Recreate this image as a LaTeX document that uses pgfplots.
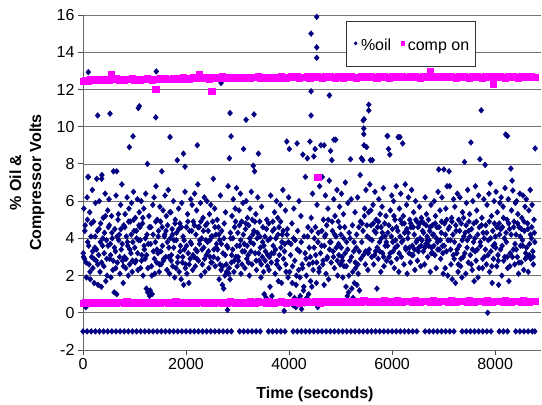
\documentclass[border=0pt]{standalone}
\usepackage{fontspec}
\setmainfont{Liberation Sans}
\usepackage{pgfplots}
\pgfplotsset{compat=1.18}
\definecolor{navy}{RGB}{0,0,128}
\definecolor{mag}{RGB}{255,0,255}
\begin{document}
\begin{tikzpicture}
\begin{axis}[
  scale only axis, width=458pt, height=335pt,
  xmin=0, xmax=8890, ymin=-2, ymax=16,
  xtick={0,2000,4000,6000,8000}, xticklabels={0,2000,4000,6000,8000},
  ytick={-2,0,2,4,6,8,10,12,14,16}, yticklabels={-2,0,2,4,6,8,10,12,14,16},
  axis x line*=bottom, axis y line*=left,
  tick align=outside, major tick length=5pt, tick pos=left,
  ymajorgrids, grid style={black!55, line width=0.7pt},
  axis line style={black!60, line width=0.9pt},
  tick style={black!70, line width=0.8pt},
  ticklabel style={font=\fontsize{16}{19}\selectfont},
  xlabel={Time (seconds)}, ylabel={\% Oil \&\\Compressor Volts},
  xlabel style={font=\bfseries\fontsize{16}{19}\selectfont, at={(axis description cs:0.5066,0)}, anchor=base, yshift=-48pt},
  ylabel style={font=\bfseries\fontsize{16}{20}\selectfont, align=center, at={(axis description cs:-0.1223,0.5)}, anchor=center},
  legend style={at={(axis description cs:0.5745,0.9835)}, anchor=north west, legend columns=2, draw=black!80, line width=0.6pt, fill=white, font=\fontsize{16}{19}\selectfont, nodes={inner xsep=3pt, inner ysep=2pt, text height=26pt, text depth=11pt}, /tikz/every even column/.append style={column sep=2pt}},
  legend cell align=left,
  legend image code/.code={\path (0pt,8pt) (8pt,-1.6pt); \draw[#1,mark size=1.6pt] plot coordinates {(6pt,0pt)};},
]
\addplot[only marks, color=navy, mark=diamond*, mark size=2.9pt, mark options={xscale=1.15, fill=navy, draw=none}] coordinates {
(5,3.2)(17,5.6)(30,2.9)(42,4.7)(55,0.3)(67,1.9)(80,6.2)(92,3.8)
(105,7.3)(117,2.6)(130,5.4)(142,1.8)(155,4.1)(167,3.0)(180,6.6)(192,2.4)
(205,4.9)(217,1.6)(230,3.5)(242,5.9)(255,2.8)(267,7.2)(280,4.4)(292,1.5)
(305,3.1)(317,6.0)(330,2.2)(342,4.8)(355,1.4)(367,7.4)(380,3.6)(392,5.1)
(405,2.5)(417,4.3)(430,6.4)(442,1.7)(455,3.9)(467,2.0)(480,5.5)(492,4.6)
(505,6.1)(517,2.9)(530,3.7)(542,1.9)(555,5.2)(567,4.0)(580,2.3)(592,7.6)
(605,1.1)(617,4.5)(630,3.3)(642,6.3)(655,1.0)(667,2.7)(680,5.0)(692,3.9)
(705,4.2)(717,2.1)(730,5.8)(742,3.4)(755,6.9)(767,2.8)(780,1.6)(792,4.7)
(805,3.0)(817,5.3)(830,2.4)(842,4.1)(855,6.2)(867,3.6)(880,2.0)(892,5.6)
(905,2.6)(917,4.9)(930,3.2)(942,5.9)(955,2.2)(967,3.8)(980,6.5)(992,4.4)
(1005,3.5)(1017,5.1)(1030,2.8)(1042,4.0)(1055,6.1)(1067,2.3)(1080,3.9)(1092,5.4)
(1105,4.6)(1117,2.4)(1130,6.0)(1142,3.1)(1155,4.8)(1167,2.0)(1180,5.6)(1192,3.4)
(1205,2.9)(1217,6.4)(1230,1.3)(1242,4.2)(1255,1.1)(1267,3.7)(1280,5.2)(1292,0.9)
(1305,1.2)(1317,4.6)(1330,2.5)(1342,1.0)(1355,5.8)(1367,3.3)(1380,6.2)(1392,2.1)
(1405,3.8)(1417,6.8)(1430,2.7)(1442,5.0)(1455,3.2)(1467,4.4)(1480,2.2)(1492,5.7)
(1505,4.9)(1517,2.6)(1530,7.6)(1542,3.6)(1555,5.5)(1567,2.9)(1580,4.1)(1592,6.3)
(1605,3.0)(1617,5.2)(1630,2.3)(1642,4.7)(1655,6.6)(1667,3.5)(1680,2.1)(1692,4.0)
(1705,5.4)(1717,3.1)(1730,4.5)(1742,2.5)(1755,6.0)(1767,3.9)(1780,1.9)(1792,5.0)
(1805,2.4)(1817,4.3)(1830,8.2)(1842,3.0)(1855,5.6)(1867,2.2)(1880,4.8)(1892,3.6)
(1905,1.8)(1917,5.9)(1930,2.7)(1942,4.1)(1955,1.5)(1967,3.4)(1980,6.5)(1992,2.6)
(2005,4.6)(2017,2.1)(2030,5.3)(2042,3.2)(2055,1.6)(2067,4.4)(2080,2.9)(2092,6.1)
(2105,3.7)(2117,5.8)(2130,2.3)(2142,4.9)(2155,3.0)(2167,6.4)(2180,2.5)(2192,4.2)
(2205,5.5)(2217,3.3)(2230,6.9)(2242,2.8)(2255,4.6)(2267,3.9)(2280,5.9)(2292,2.0)
(2305,4.0)(2317,2.6)(2330,5.1)(2342,3.5)(2355,6.2)(2367,2.2)(2380,4.7)(2392,3.1)
(2405,6.0)(2417,3.8)(2430,4.4)(2442,2.4)(2455,5.3)(2467,3.0)(2480,5.8)(2492,4.1)
(2505,2.7)(2517,4.9)(2530,7.2)(2542,3.4)(2555,5.6)(2567,2.5)(2580,4.2)(2592,3.7)
(2605,5.0)(2617,2.9)(2630,4.6)(2642,1.8)(2655,3.9)(2667,6.3)(2680,2.3)(2692,4.4)
(2705,1.5)(2717,3.2)(2730,1.3)(2742,4.8)(2755,2.0)(2767,5.4)(2780,2.6)(2792,3.6)
(2805,0.15)(2817,6.8)(2830,2.1)(2842,8.3)(2855,1.8)(2867,4.0)(2880,2.7)(2892,5.2)
(2905,3.4)(2917,6.1)(2930,2.2)(2942,4.6)(2955,5.6)(2967,3.0)(2980,6.7)(2992,2.5)
(3005,4.3)(3017,2.8)(3030,5.5)(3042,3.6)(3055,6.4)(3067,2.1)(3080,4.9)(3092,3.3)
(3105,5.9)(3117,8.8)(3130,3.7)(3142,2.4)(3155,4.5)(3167,6.0)(3180,2.9)(3192,5.1)
(3205,3.1)(3217,4.7)(3230,2.0)(3242,5.6)(3255,3.8)(3267,6.5)(3280,2.6)(3292,4.2)
(3305,7.9)(3317,4.4)(3330,7.6)(3342,3.2)(3355,5.3)(3367,2.3)(3380,4.0)(3392,6.2)
(3405,8.55)(3417,2.8)(3430,4.9)(3442,3.5)(3455,1.9)(3467,5.7)(3480,3.0)(3492,4.6)
(3505,2.2)(3517,1.0)(3530,4.1)(3542,3.3)(3555,0.8)(3567,5.0)(3580,2.5)(3592,3.9)
(3605,4.8)(3617,3.0)(3630,1.4)(3642,6.3)(3655,2.7)(3667,0.9)(3680,4.4)(3692,3.6)
(3705,3.2)(3717,5.4)(3730,2.1)(3742,4.0)(3755,6.0)(3767,2.8)(3780,5.1)(3792,1.7)
(3805,4.6)(3817,2.4)(3830,5.8)(3842,3.5)(3855,1.6)(3867,4.2)(3880,6.6)(3892,2.9)
(3905,0.1)(3917,3.7)(3930,5.5)(3942,2.2)(3955,9.2)(3967,4.5)(3980,1.9)(3992,6.2)
(4005,8.8)(4017,1.0)(4030,3.1)(4042,0.6)(4055,4.8)(4067,2.5)(4080,0.4)(4092,5.6)
(4105,0.8)(4117,3.9)(4130,0.3)(4142,2.0)(4155,9.1)(4167,4.4)(4180,0.7)(4192,6.0)
(4205,3.3)(4217,0.9)(4230,5.2)(4242,0.2)(4255,2.6)(4267,8.5)(4280,1.2)(4292,4.1)
(4305,0.5)(4317,7.3)(4330,2.9)(4342,0.8)(4355,8.3)(4367,4.6)(4380,1.0)(4392,3.5)
(4405,9.2)(4417,1.7)(4430,5.1)(4442,1.4)(4455,6.4)(4467,2.3)(4480,8.4)(4492,4.0)
(4505,8.8)(4517,3.1)(4530,1.6)(4542,5.8)(4555,0.3)(4567,4.3)(4580,2.2)(4592,6.8)
(4605,0.5)(4617,9.0)(4630,3.6)(4642,7.3)(4655,2.6)(4667,5.0)(4680,1.5)(4692,4.1)
(4705,6.3)(4717,2.1)(4730,4.7)(4742,3.0)(4755,5.6)(4767,1.8)(4780,7.1)(4792,3.8)
(4805,8.7)(4817,2.7)(4830,8.2)(4842,4.4)(4855,3.3)(4867,6.1)(4880,2.4)(4892,5.2)
(4905,9.3)(4917,3.5)(4930,6.6)(4942,2.0)(4955,4.9)(4967,3.1)(4980,5.7)(4992,2.6)
(5005,4.2)(5017,6.4)(5030,3.0)(5042,1.9)(5055,5.3)(5067,2.5)(5080,4.6)(5092,7.0)
(5105,1.4)(5117,3.8)(5130,0.9)(5142,5.9)(5155,1.1)(5167,4.3)(5180,2.8)(5192,8.25)
(5205,6.1)(5217,1.3)(5230,4.7)(5242,0.8)(5255,3.3)(5267,1.6)(5280,5.4)(5292,2.4)
(5305,3.5)(5317,1.5)(5330,6.2)(5342,2.1)(5355,4.6)(5367,1.2)(5380,7.4)(5392,2.9)
(5405,8.3)(5417,4.8)(5430,8.2)(5442,3.1)(5455,9.0)(5467,5.6)(5480,2.6)(5492,6.6)
(5505,8.9)(5517,4.1)(5530,2.3)(5542,5.4)(5555,3.4)(5567,6.9)(5580,8.2)(5592,4.7)
(5605,3.0)(5617,8.2)(5630,5.8)(5642,2.6)(5655,4.4)(5667,6.5)(5680,3.3)(5692,5.0)
(5705,1.3)(5717,4.6)(5730,2.9)(5742,6.1)(5755,3.8)(5767,5.3)(5780,2.2)(5792,4.0)
(5805,5.7)(5817,3.2)(5830,6.7)(5842,2.5)(5855,4.8)(5867,3.6)(5880,5.2)(5892,2.8)
(5905,9.5)(5917,4.3)(5930,8.8)(5942,3.0)(5955,8.5)(5967,5.5)(5980,2.7)(5992,6.3)
(6005,4.5)(6017,3.3)(6030,6.0)(6042,2.4)(6055,5.0)(6067,3.9)(6080,6.8)(6092,2.9)
(6105,3.6)(6117,9.44)(6130,2.2)(6142,5.6)(6155,4.1)(6167,6.4)(6180,3.0)(6192,4.8)
(6205,9.1)(6217,5.2)(6230,2.6)(6242,4.3)(6255,6.9)(6267,3.4)(6280,5.8)(6292,2.1)
(6305,4.0)(6317,6.2)(6330,3.2)(6342,5.0)(6355,2.7)(6367,4.6)(6380,6.6)(6392,3.6)
(6405,3.1)(6417,5.4)(6430,4.2)(6442,2.3)(6455,6.0)(6467,3.8)(6480,4.9)(6492,2.8)
(6505,4.6)(6517,3.5)(6530,5.7)(6542,4.0)(6555,2.5)(6567,5.1)(6580,3.9)(6592,4.4)
(6605,3.3)(6617,4.8)(6630,2.6)(6642,6.2)(6655,3.7)(6667,5.3)(6680,4.1)(6692,3.0)
(6705,5.0)(6717,3.9)(6730,4.4)(6742,2.2)(6755,5.8)(6767,3.5)(6780,4.7)(6792,3.2)
(6805,4.2)(6817,6.0)(6830,3.1)(6842,5.2)(6855,2.4)(6867,4.6)(6880,3.8)(6892,6.5)
(6905,7.7)(6917,3.4)(6930,5.5)(6942,2.9)(6955,4.3)(6967,6.2)(6980,3.6)(6992,2.1)
(7005,7.7)(7017,4.8)(7030,2.4)(7042,5.6)(7055,3.3)(7067,6.8)(7080,2.0)(7092,4.5)
(7105,7.6)(7117,6.8)(7130,3.9)(7142,2.6)(7155,5.1)(7167,1.8)(7180,4.2)(7192,6.1)
(7205,2.9)(7217,5.7)(7230,1.6)(7242,4.4)(7255,3.2)(7267,6.4)(7280,2.2)(7292,5.0)
(7305,3.6)(7317,6.2)(7330,2.5)(7342,4.8)(7355,1.9)(7367,5.4)(7380,3.0)(7392,4.1)
(7405,8.1)(7417,4.3)(7430,2.1)(7442,5.9)(7455,3.5)(7467,6.6)(7480,2.7)(7492,4.9)
(7505,5.3)(7517,3.1)(7530,9.15)(7542,4.5)(7555,2.3)(7567,6.0)(7580,3.8)(7592,1.7)
(7605,4.0)(7617,6.8)(7630,2.8)(7642,5.5)(7655,3.4)(7667,1.9)(7680,6.3)(7692,4.6)
(7705,8.25)(7717,3.6)(7730,10.88)(7742,5.1)(7755,2.4)(7767,4.3)(7780,6.1)(7792,3.0)
(7805,7.95)(7817,4.7)(7830,2.6)(7842,5.8)(7855,0.0)(7867,3.9)(7880,6.4)(7892,2.2)
(7905,6.95)(7917,3.3)(7930,5.2)(7942,1.6)(7955,4.4)(7967,2.9)(7980,6.0)(7992,3.7)
(8005,4.1)(8017,6.5)(8030,2.5)(8042,5.4)(8055,3.1)(8067,1.5)(8080,4.8)(8092,5.9)
(8105,3.4)(8117,6.2)(8130,2.0)(8142,4.6)(8155,5.7)(8167,2.8)(8180,4.0)(8192,6.7)
(8205,9.58)(8217,3.8)(8230,5.0)(8242,2.4)(8255,6.1)(8267,1.7)(8280,4.5)(8292,3.2)
(8305,7.75)(8317,5.5)(8330,7.1)(8342,6.57)(8355,3.4)(8367,4.9)(8380,2.6)(8392,5.9)
(8405,4.2)(8417,6.0)(8430,3.0)(8442,5.3)(8455,2.1)(8467,4.6)(8480,6.4)(8492,3.6)
(8505,2.7)(8517,5.1)(8530,3.9)(8542,6.3)(8555,2.3)(8567,4.4)(8580,5.7)(8592,3.2)
(8605,6.1)(8617,3.0)(8630,4.8)(8642,2.2)(8655,5.5)(8667,3.7)(8680,6.6)(8692,2.9)
(8705,4.0)(8717,5.8)(8730,3.3)(8742,2.6)(8755,5.0)(8770,3.8)(8777,8.83)
(11,3.0)(36,4.4)(61,2.7)(86,5.0)(111,3.6)(136,2.2)(161,4.8)(186,3.3)(211,2.9)(236,4.1)(261,3.4)(286,2.6)
(311,4.5)(336,3.8)(361,2.7)(386,4.0)(411,3.2)(436,5.2)(461,2.9)(486,3.6)(511,4.7)(536,3.1)(561,4.3)(586,2.8)
(611,3.5)(636,2.4)(661,4.1)(686,5.3)(711,3.0)(736,4.5)(761,3.7)(786,2.5)(811,4.6)(836,2.9)(861,3.8)(886,4.9)
(911,3.4)(936,4.2)(961,2.8)(986,5.0)(1011,2.7)(1036,4.4)(1061,3.2)(1086,4.7)(1111,3.9)(1136,2.8)(1161,5.1)(1186,3.6)
(1211,4.0)(1236,3.1)(1261,2.4)(1286,4.6)(1311,3.7)(1336,2.0)(1361,4.2)(1386,2.9)(1411,4.9)(1436,3.4)(1461,4.1)(1486,2.6)
(1511,3.3)(1536,4.6)(1561,2.8)(1586,4.2)(1611,4.4)(1636,3.8)(1661,3.0)(1686,5.4)(1711,2.8)(1736,4.2)(1761,3.5)(1786,4.8)
(1811,3.9)(1836,2.7)(1861,4.5)(1886,3.3)(1911,4.6)(1936,3.0)(1961,3.9)(1986,2.4)(2011,3.6)(2036,4.9)(2061,2.6)(2086,3.8)
(2111,4.4)(2136,3.1)(2161,4.7)(2186,3.4)(2211,2.9)(2236,4.6)(2261,3.7)(2286,4.9)(2311,3.4)(2336,4.4)(2361,2.9)(2386,3.9)
(2411,4.8)(2436,3.3)(2461,3.9)(2486,2.7)(2511,4.1)(2536,3.0)(2561,4.6)(2586,3.5)(2611,3.4)(2636,4.2)(2661,2.6)(2686,3.7)
(2711,2.5)(2736,4.0)(2761,3.1)(2786,2.2)(2811,3.5)(2836,2.4)(2861,4.3)(2886,3.1)(2911,4.0)(2936,2.8)(2961,4.9)(2986,3.6)
(3011,3.0)(3036,4.7)(3061,3.9)(3086,2.6)(3111,4.2)(3136,3.3)(3161,4.8)(3186,3.6)(3211,2.7)(3236,4.0)(3261,3.3)(3286,5.0)
(3311,3.7)(3336,4.9)(3361,2.8)(3386,4.3)(3411,3.2)(3436,4.1)(3461,2.6)(3486,3.8)(3511,3.6)(3536,2.8)(3561,4.5)(3586,3.1)
(3611,2.3)(3636,4.0)(3661,3.2)(3686,4.9)(3711,4.5)(3736,3.4)(3761,2.6)(3786,4.2)(3811,3.1)(3836,4.9)(3861,3.8)(3886,4.4)
(3911,3.3)(3936,2.6)(3961,4.2)(3986,3.8)(4011,2.2)(4036,3.7)(4061,1.6)(4086,4.0)(4111,2.8)(4136,1.5)(4161,3.4)(4186,2.3)
(4211,1.9)(4236,3.8)(4261,2.4)(4286,1.4)(4311,3.2)(4336,2.0)(4361,4.1)(4386,2.6)(4411,3.0)(4436,4.4)(4461,2.7)(4486,3.5)
(4511,4.6)(4536,2.7)(4561,3.8)(4586,2.4)(4611,3.2)(4636,4.4)(4661,2.8)(4686,3.6)(4711,4.2)(4736,2.9)(4761,5.0)(4786,3.4)
(4811,3.8)(4836,4.9)(4861,3.0)(4886,4.2)(4911,4.1)(4936,2.8)(4961,3.7)(4986,4.6)(5011,3.5)(5036,2.8)(5061,4.0)(5086,3.2)
(5111,2.5)(5136,3.4)(5161,2.0)(5186,4.0)(5211,3.0)(5236,2.2)(5261,3.8)(5286,2.7)(5311,4.2)(5336,2.6)(5361,3.3)(5386,4.9)
(5411,3.8)(5436,4.4)(5461,5.2)(5486,3.3)(5511,4.7)(5536,3.2)(5561,4.0)(5586,5.5)(5611,3.9)(5636,4.8)(5661,3.1)(5686,4.3)
(5711,3.5)(5736,4.9)(5761,3.3)(5786,4.6)(5811,4.3)(5836,3.0)(5861,4.1)(5886,3.8)(5911,3.6)(5936,4.7)(5961,3.2)(5986,4.1)
(6011,3.8)(6036,5.2)(6061,3.5)(6086,4.6)(6111,4.4)(6136,3.2)(6161,5.0)(6186,3.8)(6211,3.9)(6236,4.8)(6261,3.5)(6286,4.5)
(6311,4.3)(6336,3.5)(6361,4.8)(6386,3.1)(6411,4.6)(6436,3.4)(6461,5.0)(6486,3.9)(6511,3.3)(6536,4.8)(6561,3.6)(6586,4.9)
(6611,4.3)(6636,3.5)(6661,4.7)(6686,3.9)(6711,3.6)(6736,4.6)(6761,3.2)(6786,4.2)(6811,3.6)(6836,4.8)(6861,4.0)(6886,3.4)
(6911,4.6)(6936,3.9)(6961,4.9)(6986,3.2)(7011,3.6)(7036,4.2)(7061,5.0)(7086,3.9)(7111,4.6)(7136,3.4)(7161,4.9)(7186,3.1)
(7211,3.8)(7236,4.7)(7261,3.4)(7286,2.6)(7311,4.4)(7336,2.9)(7361,3.9)(7386,5.1)(7411,3.2)(7436,4.7)(7461,3.9)(7486,4.4)
(7511,4.1)(7536,2.6)(7561,3.4)(7586,4.8)(7611,3.3)(7636,4.9)(7661,4.2)(7686,2.4)(7711,3.8)(7736,4.7)(7761,2.9)(7786,4.0)
(7811,3.4)(7836,4.3)(7861,3.1)(7886,4.9)(7911,4.0)(7936,2.5)(7961,3.6)(7986,4.8)(8011,3.5)(8036,4.6)(8061,2.8)(8086,4.2)
(8111,4.5)(8136,3.6)(8161,5.1)(8186,3.0)(8211,4.3)(8236,3.0)(8261,4.8)(8286,2.5)(8311,4.2)(8336,3.0)(8361,4.6)(8386,3.7)
(8411,3.4)(8436,4.8)(8461,2.7)(8486,4.1)(8511,4.5)(8536,3.6)(8561,4.9)(8586,2.9)(8611,3.5)(8636,4.5)(8661,3.1)(8686,4.2)
(8711,4.6)(8736,3.0)(8761,4.3)
(103,12.93)(285,10.6)(524,10.7)(1074,11.0)(1093,11.1)(1412,10.5)(1423,12.97)(971,9.48)(899,8.9)
(1689,9.44)(2219,9.0)(2680,12.35)(2854,10.73)(2874,9.48)(3165,10.37)(3320,10.66)
(4427,15.0)(4537,15.9)(4537,14.26)(4537,13.7)(4427,11.9)(4783,11.68)(4427,10.6)
(5547,11.18)(5547,10.87)(5456,10.4)(5440,10.34)(5450,9.9)(5450,9.6)(8239,9.5)
(97,7.3)(363,7.2)(654,7.6)(1250,8.0)(1950,8.55)(1980,7.85)(4870,9.3)(4680,9.0)(5913,9.5)(6152,9.44)
(0,-1)(80,-1)(160,-1)(240,-1)(320,-1)(400,-1)(480,-1)(560,-1)(640,-1)(720,-1)(800,-1)(880,-1)(960,-1)
(1040,-1)(1120,-1)(1200,-1)(1280,-1)(1360,-1)(1440,-1)(1520,-1)(1600,-1)(1680,-1)(1760,-1)(1840,-1)(1920,-1)
(2000,-1)(2080,-1)(2160,-1)(2240,-1)(2320,-1)(2400,-1)(2480,-1)(2560,-1)(2640,-1)(2720,-1)(2800,-1)(2880,-1)
(3040,-1)(3120,-1)(3200,-1)(3280,-1)(3360,-1)(3440,-1)(3600,-1)(3680,-1)(3760,-1)(3840,-1)(3920,-1)
(4080,-1)(4160,-1)(4240,-1)(4320,-1)(4400,-1)(4480,-1)(4560,-1)(4640,-1)(4720,-1)(4800,-1)(4880,-1)(4960,-1)
(5040,-1)(5120,-1)(5200,-1)(5280,-1)(5360,-1)(5440,-1)(5520,-1)(5600,-1)(5680,-1)(5760,-1)(5840,-1)(5920,-1)
(6000,-1)(6080,-1)(6160,-1)(6240,-1)(6320,-1)(6400,-1)(6480,-1)(6640,-1)(6720,-1)(6800,-1)(6880,-1)(6960,-1)
(7040,-1)(7120,-1)(7200,-1)(7360,-1)(7440,-1)(7520,-1)(7600,-1)(7680,-1)(7760,-1)(7840,-1)(7920,-1)
(8080,-1)(8160,-1)(8240,-1)(8400,-1)(8480,-1)(8560,-1)(8640,-1)(8720,-1)(8770,-1)
};
\addlegendentry{\%oil}
\addplot[only marks, color=mag, mark=square*, mark size=3.1pt, mark options={fill=mag, draw=none}] coordinates {
(0,12.45)(50,12.5)(100,12.47)(150,12.52)(200,12.5)(250,12.55)(300,12.48)(350,12.53)(400,12.5)(450,12.56)
(500,12.52)(550,12.8)(600,12.55)(650,12.58)(700,12.51)(750,12.54)(800,12.5)(850,12.57)(900,12.53)(950,12.6)
(1000,12.52)(1050,12.55)(1100,12.5)(1150,12.57)(1200,12.53)(1250,12.58)(1300,12.55)(1350,12.51)(1400,12.56)(1450,12.54)
(1500,12.58)(1550,12.55)(1600,12.6)(1650,12.53)(1700,12.57)(1750,12.62)(1800,12.56)(1850,12.6)(1900,12.58)(1950,12.63)
(2000,12.6)(2050,12.57)(2100,12.62)(2150,12.65)(2200,12.59)(2250,12.8)(2300,12.6)(2350,12.66)(2400,12.61)(2450,12.58)
(2500,12.63)(2550,12.6)(2600,12.65)(2650,12.62)(2700,12.68)(2750,12.6)(2800,12.64)(2850,12.61)(2900,12.66)(2950,12.63)
(3000,12.6)(3050,12.65)(3100,12.62)(3150,12.67)(3200,12.63)(3250,12.6)(3300,12.66)(3350,12.64)(3400,12.68)(3450,12.62)
(3500,12.65)(3550,12.62)(3600,12.67)(3650,12.64)(3700,12.6)(3750,12.66)(3800,12.63)(3850,12.69)(3900,12.65)(3950,12.62)
(4000,12.66)(4050,12.7)(4100,12.64)(4150,12.68)(4200,12.62)(4250,12.67)(4300,12.65)(4350,12.7)(4400,12.63)(4450,12.68)
(4500,12.64)(4550,12.7)(4600,12.66)(4650,12.62)(4700,12.68)(4750,12.65)(4800,12.71)(4850,12.66)(4900,12.63)(4950,12.69)
(5000,12.66)(5050,12.62)(5100,12.68)(5150,12.64)(5200,12.7)(5250,12.66)(5300,12.62)(5350,12.67)(5400,12.73)(5450,12.65)
(5500,12.68)(5550,12.64)(5600,12.7)(5650,12.66)(5700,12.62)(5750,12.68)(5800,12.65)(5850,12.71)(5900,12.67)(5950,12.63)
(6000,12.68)(6050,12.65)(6100,12.7)(6150,12.66)(6200,12.72)(6250,12.67)(6300,12.64)(6350,12.69)(6400,12.66)(6450,12.71)
(6500,12.67)(6550,12.63)(6600,12.69)(6650,12.66)(6700,12.72)(6750,12.68)(6800,12.64)(6850,12.7)(6900,12.66)(6950,12.68)
(7000,12.64)(7050,12.69)(7100,12.66)(7150,12.71)(7200,12.67)(7250,12.63)(7300,12.69)(7350,12.65)(7400,12.7)(7450,12.66)
(7500,12.62)(7550,12.68)(7600,12.65)(7650,12.7)(7700,12.66)(7750,12.63)(7800,12.69)(7850,12.66)(7900,12.72)(7950,12.65)
(8000,12.68)(8050,12.64)(8100,12.7)(8150,12.66)(8200,12.62)(8250,12.68)(8300,12.65)(8350,12.71)(8400,12.67)(8450,12.63)
(8500,12.69)(8550,12.66)(8600,12.7)(8650,12.65)(8700,12.68)(8750,12.66)(8780,12.67)
(1412,12.0)(2499,11.9)(4557,7.27)(6740,13.0)(7955,12.27)
(0,0.52)(50,0.55)(100,0.5)(150,0.56)(200,0.53)(250,0.58)(300,0.51)(350,0.55)(400,0.52)(450,0.57)
(500,0.54)(550,0.5)(600,0.56)(650,0.53)(700,0.58)(750,0.55)(800,0.52)(850,0.6)(900,0.54)(950,0.51)
(1000,0.56)(1050,0.53)(1100,0.58)(1150,0.52)(1200,0.55)(1250,0.5)(1300,0.57)(1350,0.54)(1400,0.52)(1450,0.56)
(1500,0.53)(1550,0.58)(1600,0.55)(1650,0.51)(1700,0.57)(1750,0.54)(1800,0.59)(1850,0.53)(1900,0.56)(1950,0.52)
(2000,0.57)(2050,0.54)(2100,0.51)(2150,0.56)(2200,0.53)(2250,0.58)(2300,0.55)(2350,0.52)(2400,0.57)(2450,0.54)
(2500,0.56)(2550,0.53)(2600,0.58)(2650,0.55)(2700,0.51)(2750,0.57)(2800,0.54)(2850,0.59)(2900,0.56)(2950,0.53)
(3000,0.58)(3050,0.55)(3100,0.52)(3150,0.57)(3200,0.54)(3250,0.59)(3300,0.56)(3350,0.53)(3400,0.6)(3450,0.55)
(3500,0.57)(3550,0.54)(3600,0.59)(3650,0.56)(3700,0.53)(3750,0.58)(3800,0.55)(3850,0.6)(3900,0.57)(3950,0.54)
(4000,0.58)(4050,0.55)(4100,0.6)(4150,0.57)(4200,0.54)(4250,0.59)(4300,0.56)(4350,0.61)(4400,0.58)(4450,0.55)
(4500,0.6)(4550,0.57)(4600,0.54)(4650,0.59)(4700,0.56)(4750,0.61)(4800,0.58)(4850,0.55)(4900,0.6)(4950,0.57)
(5000,0.59)(5050,0.56)(5100,0.61)(5150,0.58)(5200,0.63)(5250,0.6)(5300,0.57)(5350,0.62)(5400,0.59)(5450,0.65)
(5500,0.62)(5550,0.59)(5600,0.64)(5650,0.61)(5700,0.58)(5750,0.63)(5800,0.6)(5850,0.65)(5900,0.62)(5950,0.59)
(6000,0.63)(6050,0.6)(6100,0.65)(6150,0.62)(6200,0.59)(6250,0.64)(6300,0.61)(6350,0.63)(6400,0.6)(6450,0.65)
(6500,0.62)(6550,0.59)(6600,0.64)(6650,0.61)(6700,0.63)(6750,0.6)(6800,0.65)(6850,0.62)(6900,0.59)(6950,0.64)
(7000,0.61)(7050,0.63)(7100,0.6)(7150,0.65)(7200,0.62)(7250,0.59)(7300,0.64)(7350,0.61)(7400,0.63)(7450,0.6)
(7500,0.65)(7550,0.62)(7600,0.59)(7650,0.64)(7700,0.61)(7750,0.63)(7800,0.6)(7850,0.65)(7900,0.62)(7950,0.59)
(8000,0.64)(8050,0.61)(8100,0.63)(8150,0.6)(8200,0.65)(8250,0.62)(8300,0.59)(8350,0.64)(8400,0.61)(8450,0.63)
(8500,0.6)(8550,0.65)(8600,0.62)(8650,0.59)(8700,0.64)(8750,0.61)(8780,0.62)
};
\addlegendentry{comp on}
\end{axis}
\pgfresetboundingbox
\path[use as bounding box] (-83pt,-55pt) rectangle (459pt,350pt);
\end{tikzpicture}
\end{document}
